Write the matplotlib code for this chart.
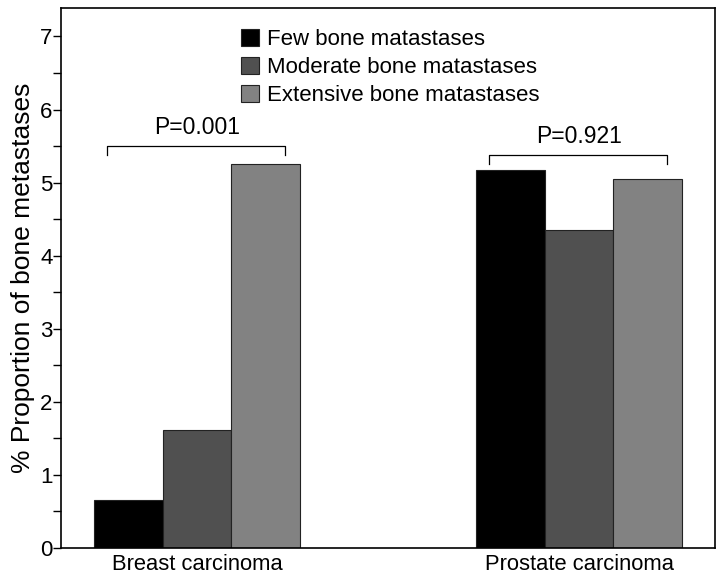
import matplotlib
matplotlib.use("Agg")
import matplotlib.pyplot as plt
import numpy as np
from matplotlib.patches import Patch
from matplotlib.ticker import MultipleLocator

plt.rcParams['font.family'] = ['Liberation Sans', 'DejaVu Sans']

categories = ["Breast carcinoma", "Prostate carcinoma"]
series_names = ["Few bone matastases", "Moderate bone matastases", "Extensive bone matastases"]
few = [0.66, 5.17]
moderate = [1.62, 4.35]
extensive = [5.26, 5.05]
p_labels = ["P=0.001", "P=0.921"]
bracket_y = [5.50, 5.38]
colors = ["#000000", "#505050", "#828282"]

fig = plt.figure(figsize=(7.24, 5.78), dpi=100)
ax = fig.add_axes([61/724, 1-548/578, (715-61)/724, (548-8)/578])

x = np.arange(len(categories))
w = 0.18
for i, (vals, c) in enumerate(zip([few, moderate, extensive], colors)):
    ax.bar(x + (i-1)*w, vals, w, color=c, edgecolor="#222222", linewidth=0.8)

for xi, by, lab in zip(x, bracket_y, p_labels):
    left = xi - 1.5*w + 0.035
    right = xi + 1.5*w - 0.04
    ax.plot([left, left, right, right], [by-0.12, by, by, by-0.12], color="black", lw=0.9)
    ax.text(xi, by + 0.1, lab, ha="center", va="bottom", fontsize=16.5)

ax.set_xlim(-0.356, 1.356)
ax.set_ylim(0, 7.39)
ax.set_xticks(x)
ax.set_xticklabels(categories, fontsize=15.8)
ax.tick_params(axis="x", length=0, pad=4)
ax.yaxis.set_major_locator(MultipleLocator(1))
ax.yaxis.set_minor_locator(MultipleLocator(0.5))
ax.tick_params(axis="y", which="major", length=6, width=1, labelsize=16, pad=0)
ax.tick_params(axis="y", which="minor", length=6, width=1)
ax.set_ylabel("% Proportion of bone metastases", fontsize=19, labelpad=4)
for s in ax.spines.values():
    s.set_linewidth(1.2)

handles = [Patch(facecolor=c, edgecolor="#222222", linewidth=0.8) for c in colors]
ax.legend(handles, series_names, loc="upper left", bbox_to_anchor=(0.262, 0.978),
          frameon=False, fontsize=16, handlelength=0.8, handleheight=0.8,
          handletextpad=0.35, labelspacing=0.3, borderaxespad=0)

fig.savefig("out.png", dpi=100)
